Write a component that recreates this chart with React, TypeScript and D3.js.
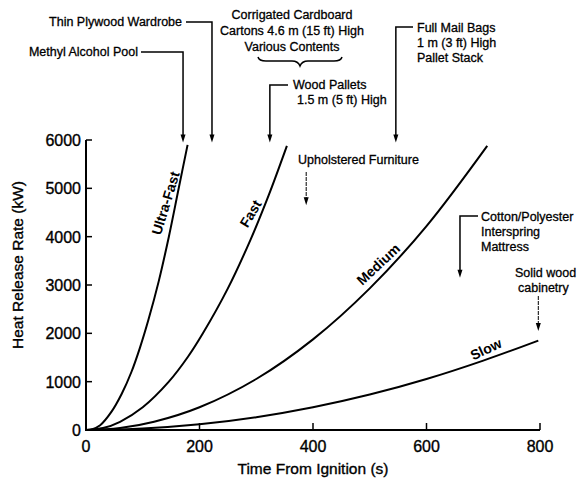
import React from 'react';
import * as d3 from 'd3';

// t-squared growth curves as [time (s), HRR (kW)]
const ultraFast = [[8, 0], [25, 100], [45, 380], [63, 750], [80, 1200], [95, 1700], [110, 2280], [128, 3070], [146, 4000], [163, 4980], [179, 5900]];
const fast = [[0, 0], [30, 40], [60, 170], [100, 470], [146, 1000], [180, 1520], [206, 2000], [250, 2930], [290, 3940], [322, 4860], [354, 5880]];
const medium = [[0, 0], [60, 40], [120, 170], [200, 470], [300, 1055], [400, 1875], [500, 2930], [600, 4220], [707, 5880]];
const slow = [[0, 0], [100, 30], [200, 117], [300, 264], [400, 470], [500, 733], [600, 1055], [700, 1436], [797, 1850]];

const curveNames = ['Ultra-Fast', 'Fast', 'Medium', 'Slow'];
// time where each name sits on its curve, and the slope in degrees
const curveNameTime = [157, 305, 527, 712];
const curveNameAngle = [-73, -59, -43, -25];

const xTicks = [0, 200, 400, 600, 800];
const yTicks = [0, 1000, 2000, 3000, 4000, 5000, 6000];

const fuelLabels = [
    ['Methyl Alcohol Pool'],
    ['Thin Plywood Wardrobe'],
    ['Wood Pallets', '1.5 m (5 ft) High'],
    ['Full Mail Bags', '1 m (3 ft) High', 'Pallet Stack'],
    ['Upholstered Furniture'],
    ['Cotton/Polyester', 'Interspring', 'Mattress'],
    ['Solid wood', 'cabinetry']
];
const fuelArrowTime = [171, 222, 324, 546, 388, 659, 797];
const fuelArrowHrr = [5950, 5950, 5950, 5950, 4650, 3150, 2050];
const cardboardLines = ['Corrigated Cardboard', 'Cartons 4.6 m (15 ft) High', 'Various Contents'];

const width = 578;
const height = 481;
const font = 'Arial, "Liberation Sans", Helvetica, sans-serif';

function Arrow({x, y}: {x: number, y: number}) {
    return <path d={`M${x - 2.5},${y - 8}L${x + 2.5},${y - 8}L${x},${y}Z`} fill="black" />;
}

// hrr on a series at time t, straight between read points
function hrrAt(s: number[][], t: number) {
    let i = s.findIndex((d) => d[0] >= t);
    if (i < 1) i = s.length - 1;
    const a = s[i - 1], b = s[i];
    return a[1] + (b[1] - a[1]) * (t - a[0]) / (b[0] - a[0]);
}

export default function App() {
    const x = d3.scaleLinear().domain([0, 800]).range([86, 540]);
    const y = d3.scaleLinear().domain([0, 6000]).range([430, 140]);

    const line = d3.line<number[]>()
        .x((d) => x(d[0]))
        .y((d) => y(d[1]))
        .curve(d3.curveCatmullRom);

    const series = [ultraFast, fast, medium, slow];

    const ax = fuelArrowTime.map((t) => x(t));
    const ay = fuelArrowHrr.map((q) => y(q));
    const txt = {fontFamily: font, fontSize: 12.5, fill: 'black', stroke: 'black', strokeWidth: 0.3};
    const axisTxt = {fontFamily: font, fontSize: 16, stroke: 'black', strokeWidth: 0.35};

    return (
        <svg width={width} height={height} style={{position: 'absolute', left: 0, top: 0, background: 'white'}}>
            {/* curves */}
            {series.map((s, i) => (
                <path key={i} d={line(s) || ''} fill="none" stroke="black" strokeWidth={2} />
            ))}
            {curveNames.map((name, i) => (
                <text key={name}
                    transform={`translate(${x(curveNameTime[i])}, ${y(hrrAt(series[i], curveNameTime[i]))}) rotate(${curveNameAngle[i]})`}
                    textAnchor="middle" dy={-5}
                    style={{fontFamily: font, fontSize: 14, fontWeight: 'bold'}}>{name}</text>
            ))}

            {/* axes */}
            <path d={`M${x(0)},${y(6000)}V${y(0)}H${x(800)}`} fill="none" stroke="black" strokeWidth={2} />
            {yTicks.map((t) => (
                <g key={t}>
                    <line x1={x(0)} x2={x(0) + 6} y1={y(t)} y2={y(t)} stroke="black" strokeWidth={1.5} />
                    <text x={81} y={y(t) + 6} textAnchor="end" style={axisTxt}>{t}</text>
                </g>
            ))}
            {xTicks.map((t) => (
                <g key={t}>
                    <line x1={x(t)} x2={x(t)} y1={y(0)} y2={y(0) - 7} stroke="black" strokeWidth={1.5} />
                    <text x={x(t)} y={452} textAnchor="middle" style={axisTxt}>{t}</text>
                </g>
            ))}
            <text x={313} y={474} textAnchor="middle" style={{...axisTxt, fontSize: 15.5}}>Time From Ignition (s)</text>
            <text transform="translate(23, 265) rotate(-90)" textAnchor="middle" style={{...axisTxt, fontSize: 15.5}}>Heat Release Rate (kW)</text>

            {/* fuel annotations */}
            <g fill="none" stroke="black" strokeWidth={1.5}>
                <path d={`M141,52H${ax[0]}V${ay[0] - 6}`} />
                <path d={`M186,22H${ax[1]}V${ay[1] - 6}`} />
                <path d={`M288,85H${ax[2]}V${ay[2] - 6}`} />
                <path d={`M413,27H${ax[3]}V${ay[3] - 6}`} />
                <path d={`M478,216H${ax[5]}V${ay[5] - 6}`} />
                <path d={`M${ax[4]},172V${ay[4] - 6}`} strokeWidth={1} strokeDasharray="4,1" />
                <path d={`M${ax[6]},296V${ay[6] - 6}`} strokeWidth={1} strokeDasharray="4,1" />
                {/* brace under the cardboard note */}
                <path d="M258,57Q259,61 266,61H292Q298,61 300,66Q302,61 308,61H334Q341,61 342,57" strokeWidth={1.5} />
            </g>
            {ax.map((px, i) => <Arrow key={i} x={px} y={ay[i]} />)}

            <text x={138} y={56} textAnchor="end" style={txt}>{fuelLabels[0][0]}</text>
            <text x={182} y={26} textAnchor="end" style={txt}>{fuelLabels[1][0]}</text>
            {cardboardLines.map((l, i) => (
                <text key={l} x={292} y={19 + i * 16} textAnchor="middle" style={txt}>{l}</text>
            ))}
            <text x={293} y={89} style={txt}>{fuelLabels[2][0]}</text>
            <text x={297} y={104} style={txt}>{fuelLabels[2][1]}</text>
            {fuelLabels[3].map((l, i) => (
                <text key={l} x={417} y={32 + i * 15} style={txt}>{l}</text>
            ))}
            <text x={298} y={164} style={txt}>{fuelLabels[4][0]}</text>
            {fuelLabels[5].map((l, i) => (
                <text key={l} x={481} y={221 + i * 15} style={txt}>{l}</text>
            ))}
            <text x={515} y={277} style={txt}>{fuelLabels[6][0]}</text>
            <text x={518} y={292} style={txt}>{fuelLabels[6][1]}</text>
        </svg>
    );
}
